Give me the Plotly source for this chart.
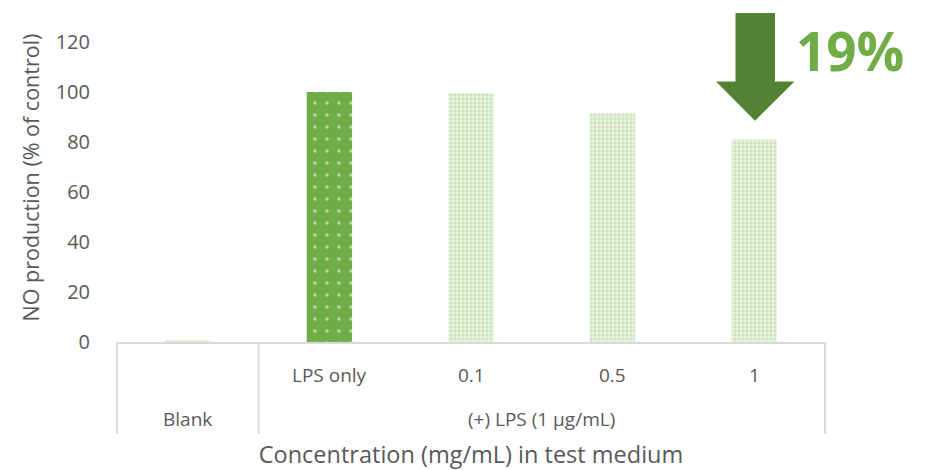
import plotly.graph_objects as go

categories = ["Blank", "LPS only", "0.1", "0.5", "1"]
inner_labels = ["", "LPS only", "0.1", "0.5", "1"]
group_labels = ["Blank", "(+) LPS (1 µg/mL)"]
group_centers = [0, 2.5]
no_production = [0.6, 100, 99.5, 91.5, 81.0]
y_ticks = [0, 20, 40, 60, 80, 100, 120]
reduction_label = "19%"

control_idx = [1]
treat_idx = [0, 2, 3, 4]

fig = go.Figure()
fig.add_trace(go.Bar(
    x=[categories[i] for i in treat_idx], y=[no_production[i] for i in treat_idx], width=0.32,
    marker=dict(color="#E2F0D9", line=dict(width=0),
                pattern=dict(shape=".", fgcolor="#A9D18E", bgcolor="#EEF6E8", size=4,
                             solidity=0.55)),
    hoverinfo="skip"))
fig.add_trace(go.Bar(
    x=[categories[i] for i in control_idx], y=[no_production[i] for i in control_idx], width=0.32,
    marker=dict(color="#70AD47", line=dict(width=0),
                pattern=dict(shape=".", fgcolor="#FFFFFF", bgcolor="#70AD47", size=12,
                             solidity=0.07)),
    hoverinfo="skip"))

def px2paper(px):
    return (px - 117) / 708.0

fig.add_shape(type="path", xref="paper", yref="y",
              path=("M {0},131.6 L {1},131.6 L {1},104.2 L {2},104.2 L {3},88.5 L {4},104.2 L {5},104.2 Z"
                    .format(px2paper(735.5), px2paper(775), px2paper(794.5), px2paper(755),
                            px2paper(716), px2paper(735.5))),
              fillcolor="#548235", line=dict(width=0))
fig.add_annotation(xref="paper", yref="y", x=px2paper(849.5), y=(342 - 50) / 2.5,
                   text="<b>" + reduction_label + "</b>", showarrow=False,
                   font=dict(family="Open Sans", size=53, color="#70AD47"),
                   xanchor="center", yanchor="middle")

# category table: inner labels, group labels, dividers
for i, lab in enumerate(inner_labels):
    if lab:
        fig.add_annotation(x=i, xref="x", yref="paper", y=0, yshift=-33, text=lab,
                           showarrow=False, yanchor="middle",
                           font=dict(size=19, color="#595959"))
for gc, gl in zip(group_centers, group_labels):
    fig.add_annotation(x=gc, xref="x", yref="paper", y=0, yshift=-77, text=gl,
                       showarrow=False, yanchor="middle",
                       font=dict(size=19, color="#595959"))
div_depth = -92 / 329.0
fig.add_shape(type="line", xref="paper", yref="paper", x0=0, x1=0, y0=0, y1=div_depth,
              line=dict(color="#D9D9D9", width=2))
fig.add_shape(type="line", xref="paper", yref="paper", x0=1, x1=1, y0=0, y1=div_depth,
              line=dict(color="#D9D9D9", width=2))
fig.add_shape(type="line", xref="x", yref="paper", x0=0.5, x1=0.5, y0=0, y1=div_depth,
              line=dict(color="#D9D9D9", width=2))

fig.update_layout(
    width=918, height=462,
    margin=dict(l=109, r=101, t=5, b=128),
    plot_bgcolor="white", paper_bgcolor="white",
    showlegend=False, barmode="overlay",
    font=dict(family="Open Sans", color="#595959"),
    xaxis=dict(type="category", categoryorder="array", categoryarray=categories,
               showline=True, linecolor="#D9D9D9", linewidth=2,
               showticklabels=False, ticks="", automargin=False,
               range=[-0.5, 4.5],
               title=dict(text="Concentration (mg/mL) in test medium",
                          font=dict(size=23.5, color="#595959"), standoff=104)),
    yaxis=dict(range=[0, 131.6], tickvals=y_ticks, showgrid=False, zeroline=False,
               showline=False, ticklabelstandoff=26, automargin=False,
               tickfont=dict(size=20, color="#595959"),
               title=dict(text="NO production (% of control)",
                          font=dict(size=21.5, color="#595959"), standoff=10)),
)

fig.write_html("out.html")
